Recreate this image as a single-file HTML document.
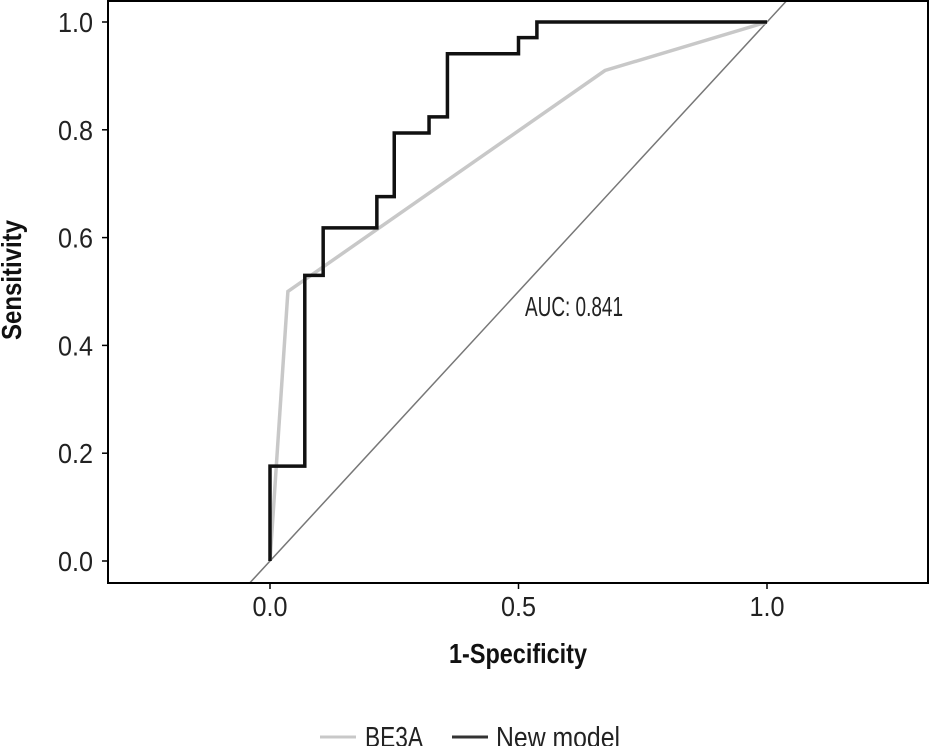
<!DOCTYPE html>
<html><head><meta charset="utf-8"><style>
body{margin:0;background:#fff}
svg text{font-family:"Liberation Sans Narrow","Liberation Sans",sans-serif}
</style></head><body>
<svg width="930" height="746" viewBox="0 0 930 746">
<g id="plot"></g>
</svg>
<script>
const blackFpr=[0,0,0.07,0.07,0.107,0.107,0.215,0.215,0.25,0.25,0.32,0.32,0.357,0.357,0.5,0.5,0.537,0.537,1];
const blackTpr=[0,0.176,0.176,0.53,0.53,0.618,0.618,0.676,0.676,0.794,0.794,0.824,0.824,0.941,0.941,0.971,0.971,1,1];
const grayFpr=[0,0.036,0.674,1];
const grayTpr=[0,0.5,0.91,1];
const xTicks=[0,0.5,1];
const xTickLabels=["0.0","0.5","1.0"];
const yTicks=[0,0.2,0.4,0.6,0.8,1];
const yTickLabels=["0.0","0.2","0.4","0.6","0.8","1.0"];
const aucLabel="AUC: 0.841";
const L=108,R=928,T=1,B=583;
const sx=v=>270+v*497, sy=v=>561-v*539;
const NS="http://www.w3.org/2000/svg";
const g=document.getElementById('plot');
function mk(t,a,p){const e=document.createElementNS(NS,t);for(const k in a)e.setAttribute(k,a[k]);(p||g).appendChild(e);return e;}
const defs=mk('defs',{});
const cp=mk('clipPath',{id:'c'},defs);mk('rect',{x:L,y:T,width:R-L,height:B-T},cp);
const diag=mk('line',{x1:sx(-0.1),y1:sy(-0.1),x2:sx(1.2),y2:sy(1.2),stroke:'#777','stroke-width':1.5,'clip-path':'url(#c)'});


const gp=mk('polyline',{points:grayFpr.map((v,i)=>sx(v)+','+sy(grayTpr[i])).join(' '),fill:'none',stroke:'#c8c8c8','stroke-width':3.5});


const bp=mk('polyline',{points:blackFpr.map((v,i)=>sx(v)+','+sy(blackTpr[i])).join(' '),fill:'none',stroke:'#111','stroke-width':3.5});


const fr=mk('rect',{x:L,y:T,width:R-L,height:B-T,fill:'none',stroke:'#000','stroke-width':2});


yTicks.forEach((v,i)=>{mk('line',{x1:L-6,x2:L,y1:sy(v),y2:sy(v),stroke:'#000','stroke-width':1.5});
 const t=mk('text',{x:93,y:sy(v)+10,'text-anchor':'end','font-size':28,fill:'#222',textLength:35,lengthAdjust:'spacingAndGlyphs'});t.textContent=yTickLabels[i];
 
 });
xTicks.forEach((v,i)=>{mk('line',{x1:sx(v),x2:sx(v),y1:B,y2:B+6,stroke:'#000','stroke-width':1.5});
 const t=mk('text',{x:sx(v),y:616,'text-anchor':'middle','font-size':28,fill:'#222',textLength:35,lengthAdjust:'spacingAndGlyphs'});t.textContent=xTickLabels[i];
 
 });
const a=mk('text',{x:525,y:316,'font-size':28,fill:'#222',textLength:98,lengthAdjust:'spacingAndGlyphs'});a.textContent=aucLabel;


const xt=mk('text',{x:518,y:663,'text-anchor':'middle','font-size':28,'font-weight':'bold',fill:'#111',textLength:138,lengthAdjust:'spacingAndGlyphs'});xt.textContent='1-Specificity';


const yt=mk('text',{x:0,y:0,'text-anchor':'middle','font-size':28,'font-weight':'bold',fill:'#111',transform:'translate(21,280) rotate(-90)',textLength:120,lengthAdjust:'spacingAndGlyphs'});yt.textContent='Sensitivity';


const l1=mk('line',{x1:320,x2:356,y1:737,y2:737,stroke:'#c8c8c8','stroke-width':3});


const t1=mk('text',{x:365,y:747,'font-size':29,fill:'#222',textLength:58,lengthAdjust:'spacingAndGlyphs'});t1.textContent='BE3A';


const l2=mk('line',{x1:452,x2:488,y1:737,y2:737,stroke:'#333','stroke-width':3});


const t2=mk('text',{x:496,y:747,'font-size':29,fill:'#222',textLength:124,lengthAdjust:'spacingAndGlyphs'});t2.textContent='New model';


</script>
</body></html>
